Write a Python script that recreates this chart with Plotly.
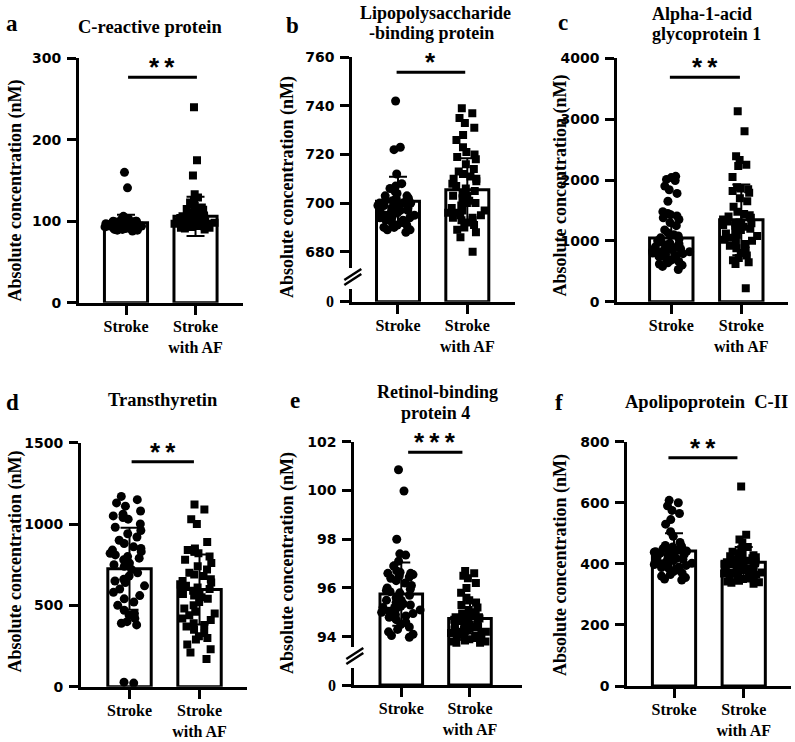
import plotly.graph_objects as go

W, H = 795, 742

# ---------------- data ----------------
groups = ["Stroke", "Stroke<br>with AF"]
titles = [["C-reactive protein"], ["Lipopolysaccharide", "-binding protein"],
          ["Alpha-1-acid", "glycoprotein 1"], ["Transthyretin"],
          ["Retinol-binding", "protein 4"], ["Apolipoprotein  C-II"]]
letters = ["a", "b", "c", "d", "e", "f"]
y_title = "Absolute concentration (nM)"

crp_stroke = [160, 141, 106, 104, 103, 102, 102, 101, 101, 100, 100, 100, 99, 99, 99, 98, 98, 98,
              97, 97, 97, 97, 96, 96, 96, 96, 95, 95, 95, 95, 95, 94, 94, 94, 94, 93, 93, 93, 93,
              92, 92, 92, 91, 91, 91, 90, 90, 89, 89, 88]
crp_af = [240, 175, 156, 133, 129, 126, 123, 121, 119, 117, 115, 114, 112, 111, 110, 109, 108, 107,
          106, 105, 104, 104, 103, 103, 102, 102, 101, 101, 100, 100, 100, 99, 99, 98, 98, 98, 97,
          97, 96, 96, 95, 95, 94, 94, 93, 93, 92, 92, 91, 90]
crp_mean = [98, 106]
crp_sd = [10, 24]

lbp_stroke = [742, 723, 722, 712, 708, 707, 706, 705, 704, 703, 703, 702, 702, 701, 701, 700, 700,
              700, 699, 699, 699, 698, 698, 698, 697, 697, 697, 696, 696, 696, 695, 695, 695, 694,
              694, 694, 693, 693, 692, 692, 691, 691, 690, 690, 689, 689, 688, 697, 700, 701]
lbp_af = [739, 737, 735, 733, 731, 728, 726, 723, 721, 720, 719, 718, 716, 714, 713, 712, 711, 710,
          710, 709, 708, 707, 706, 705, 704, 703, 702, 701, 700, 699, 698, 697, 696, 696, 695, 695,
          694, 694, 693, 693, 692, 691, 690, 689, 688, 686, 680, 700, 703, 697]
lbp_mean = [700.8, 705.5]
lbp_sd = [10, 13]

agp_stroke = [2060, 2040, 2010, 1990, 1900, 1840, 1780, 1650, 1480, 1450, 1430, 1410, 1380, 1350,
              1300, 1250, 1180, 1130, 1100, 1080, 1050, 1030, 1000, 980, 960, 950, 930, 910, 900,
              890, 880, 870, 860, 850, 840, 830, 820, 810, 800, 790, 780, 760, 740, 720, 700, 680,
              660, 640, 620, 600, 580, 530]
agp_af = [3130, 2800, 2390, 2330, 2250, 2230, 2050, 1880, 1860, 1850, 1820, 1790, 1700, 1650, 1560,
          1480, 1440, 1420, 1400, 1380, 1350, 1320, 1300, 1290, 1280, 1270, 1260, 1250, 1230, 1200,
          1180, 1150, 1120, 1100, 1080, 1050, 1020, 1000, 980, 950, 920, 880, 840, 800, 760, 720,
          680, 650, 620, 220]
agp_mean = [1045, 1345]
agp_sd = [380, 580]

ttr_stroke = [1170, 1150, 1130, 1110, 1080, 1060, 1050, 1040, 1030, 1000, 980, 960, 940, 920, 900,
              880, 860, 850, 840, 830, 820, 810, 800, 790, 780, 760, 750, 740, 720, 700, 680, 660,
              650, 640, 620, 600, 580, 560, 540, 520, 500, 470, 450, 440, 420, 400, 390, 380, 28, 22]
ttr_af = [1120, 1090, 1030, 1000, 890, 850, 840, 830, 820, 800, 780, 760, 740, 720, 700, 690, 680,
          660, 650, 640, 630, 620, 610, 600, 590, 580, 570, 560, 550, 540, 520, 500, 480, 460, 450,
          440, 420, 410, 390, 380, 370, 350, 330, 310, 300, 290, 260, 230, 210, 170]
ttr_mean = [725, 598]
ttr_sd = [252, 215]

rbp_stroke = [100.85, 99.98, 98.0, 97.4, 97.35, 97.1, 96.9, 96.7, 96.65, 96.6, 96.6, 96.55, 96.5,
              96.45, 96.4, 96.3, 96.2, 96.1, 96.0, 95.95, 95.9, 95.85, 95.8, 95.7, 95.6, 95.5, 95.4,
              95.35, 95.3, 95.25, 95.2, 95.15, 95.1, 95.05, 95.0, 94.95, 94.9, 94.85, 94.8, 94.7,
              94.6, 94.5, 94.4, 94.3, 94.2, 94.1, 94.05, 93.98, 95.5, 95.2]
rbp_af = [96.7, 96.6, 96.5, 96.4, 96.2, 96.0, 95.8, 95.6, 95.5, 95.4, 95.3, 95.2, 95.1, 95.0, 94.95,
          94.9, 94.85, 94.8, 94.75, 94.7, 94.65, 94.6, 94.55, 94.5, 94.5, 94.45, 94.4, 94.4, 94.35,
          94.3, 94.3, 94.25, 94.2, 94.2, 94.15, 94.1, 94.1, 94.05, 94.0, 94.0, 93.95, 93.9, 93.9,
          93.85, 93.8, 93.8, 93.75, 93.75, 94.6, 94.8]
rbp_mean = [95.75, 94.75]
rbp_sd = [1.3, 0.62]

apoc_stroke = [608, 600, 590, 575, 565, 545, 530, 505, 490, 470, 460, 458, 455, 452, 450, 448, 445,
               442, 440, 438, 435, 432, 430, 428, 425, 422, 420, 418, 415, 412, 410, 408, 405, 402,
               400, 398, 395, 392, 390, 388, 385, 380, 375, 370, 365, 360, 355, 350, 347, 440]
apoc_af = [653, 495, 480, 470, 455, 448, 440, 435, 430, 428, 425, 422, 420, 418, 415, 412, 410, 408,
           405, 402, 400, 398, 396, 394, 392, 390, 388, 386, 384, 382, 380, 378, 376, 374, 372, 370,
           368, 365, 362, 360, 358, 355, 352, 350, 348, 345, 342, 340, 338, 335]
apoc_mean = [442, 405]
apoc_sd = [58, 50]

sig_labels = ["**", "*", "**", "**", "***", "**"]
sig_y = [276.7, 753.8, 3688, 1383, 101.57, 747.6]

ticks_a = [0, 100, 200, 300]
ticks_b = [680, 700, 720, 740, 760]
ticks_c = [0, 1000, 2000, 3000, 4000]
ticks_d = [0, 500, 1000, 1500]
ticks_e = [94, 96, 98, 100, 102]
ticks_f = [0, 200, 400, 600, 800]

data = [
    (crp_stroke, crp_af, crp_mean, crp_sd, ticks_a),
    (lbp_stroke, lbp_af, lbp_mean, lbp_sd, ticks_b),
    (agp_stroke, agp_af, agp_mean, agp_sd, ticks_c),
    (ttr_stroke, ttr_af, ttr_mean, ttr_sd, ticks_d),
    (rbp_stroke, rbp_af, rbp_mean, rbp_sd, ticks_e),
    (apoc_stroke, apoc_af, apoc_mean, apoc_sd, ticks_f),
]

# ---------------- layout geometry (pixels, baselines for texts) ----------------
geo = [
    dict(xl=79, xr=243, yt=58.3, yb=302.7, brk=None, yr=[0, 300], xrng=[-0.676, 1.683],
         sig=[0.03, 1.02], ytx=14.5, yty=191, letter=(12, 31.7),
         title=[(150, 33)]),
    dict(xl=352.3, xr=515, yt=57.3, yb=301.7, brk=277, yr=[669.6, 760], xrng=[-0.659, 1.688],
         sig=[-0.02, 0.97], ytx=287, yty=187, letter=(292.5, 33),
         title=[(435, 19), (431.7, 39)]),
    dict(xl=617.3, xr=788, yt=58.3, yb=301.7, brk=None, yr=[0, 4000], xrng=[-0.771, 1.667],
         sig=[-0.02, 0.98], ytx=559.5, yty=186, letter=(563, 30),
         title=[(702, 20), (706, 40)]),
    dict(xl=81, xr=246.7, yt=442.7, yb=686.7, brk=None, yr=[0, 1500], xrng=[-0.693, 1.674],
         sig=[0.03, 0.92], ytx=14.5, yty=562, letter=(12.5, 410),
         title=[(163, 406)]),
    dict(xl=354.3, xr=521.7, yt=441.7, yb=685, brk=656, yr=[93.21, 102], xrng=[-0.684, 1.753],
         sig=[0.10, 0.89], ytx=287, yty=563, letter=(295, 408),
         title=[(437, 398.5), (435, 419.5)]),
    dict(xl=627.3, xr=790.7, yt=441.7, yb=686, brk=None, yr=[0, 800], xrng=[-0.670, 1.674],
         sig=[-0.08, 0.91], ytx=560, yty=565, letter=(559, 410),
         title=[(706, 408.3)]),
]


def fx(p):
    return p / W


def fy(p):
    return 1 - p / H


SERIF = "Liberation Serif"
SANS = "DejaVu Sans"
BAR_W = 0.62
LETTER_SIZE = 23

fig = go.Figure()
layout = dict(width=W, height=H, autosize=False, margin=dict(l=0, r=0, t=0, b=0, pad=0),
              paper_bgcolor="white", plot_bgcolor="rgba(0,0,0,0)", showlegend=False,
              barmode="overlay", boxmode="overlay")
shapes = []
annotations = []
extra_y = 7

axis_common = dict(showline=True, linewidth=3, linecolor="black", ticks="outside", ticklen=9,
                   tickwidth=2.5, tickcolor="black", showgrid=False, zeroline=False,
                   automargin=False, fixedrange=True)

for i, (g, (s_vals, af_vals, mean, sd, ticks)) in enumerate(zip(geo, data)):
    n = i + 1
    xid = "x" if n == 1 else f"x{n}"
    yid = "y" if n == 1 else f"y{n}"
    xkey = "xaxis" if n == 1 else f"xaxis{n}"
    ykey = "yaxis" if n == 1 else f"yaxis{n}"

    top_bottom_px = g["brk"] if g["brk"] else g["yb"]
    bottom_yid = yid
    if g["brk"]:
        bottom_yid = f"y{extra_y}"
        layout[f"yaxis{extra_y}"] = dict(
            domain=[fy(g["yb"]), fy(g["brk"])], range=[0, 10], tickvals=[0], anchor=xid,
            tickfont=dict(family=SERIF, size=16, color="black", weight="bold"),
            ticklabelstandoff=3, **axis_common)
        extra_y += 1

    layout[xkey] = dict(
        domain=[fx(g["xl"]), fx(g["xr"])], range=g["xrng"], type="category",
        categoryorder="array", categoryarray=groups, anchor=bottom_yid,
        tickfont=dict(family=SERIF, size=16, color="black", weight="bold"),
        ticklabelstandoff=-2, **axis_common)
    layout[ykey] = dict(
        domain=[fy(top_bottom_px), fy(g["yt"])], range=g["yr"], tickvals=ticks, anchor=xid,
        tickfont=dict(family=SANS, size=14, color="black", weight="bold"),
        ticklabelstandoff=3, **axis_common)

    bar_style = dict(color="white", line=dict(color="black", width=3))
    fig.add_trace(go.Bar(x=groups, y=mean, width=BAR_W, marker=bar_style,
                         xaxis=xid, yaxis=yid, hoverinfo="skip"))
    if g["brk"]:
        fig.add_trace(go.Bar(x=groups, y=mean, width=BAR_W, marker=bar_style,
                             xaxis=xid, yaxis=bottom_yid, hoverinfo="skip"))

    for cat, vals, sym, size in ((groups[0], s_vals, "circle", 9),
                                 (groups[1], af_vals, "square", 8)):
        fig.add_trace(go.Box(
            x=[cat] * len(vals), y=vals, boxpoints="all", jitter=1, pointpos=0,
            width=BAR_W, fillcolor="rgba(0,0,0,0)",
            line=dict(width=0, color="rgba(0,0,0,0)"), whiskerwidth=0,
            marker=dict(symbol=sym, size=size, color="black", line=dict(width=0)),
            xaxis=xid, yaxis=yid, hoverinfo="skip"))

    fig.add_trace(go.Scatter(
        x=groups, y=mean, mode="markers", marker=dict(size=1, color="rgba(0,0,0,0)"),
        error_y=dict(type="data", array=sd, visible=True, color="black", thickness=2, width=9),
        xaxis=xid, yaxis=yid, hoverinfo="skip"))

    # significance bar and stars
    shapes.append(dict(type="line", xref=xid, yref=yid, x0=g["sig"][0], x1=g["sig"][1],
                       y0=sig_y[i], y1=sig_y[i], line=dict(color="black", width=3)))
    annotations.append(dict(xref=xid, yref=yid, x=(g["sig"][0] + g["sig"][1]) / 2, y=sig_y[i],
                            text="\u2009".join(sig_labels[i]), showarrow=False,
                            xanchor="center", yanchor="middle", yshift=10, borderpad=0,
                            font=dict(family="Liberation Sans", size=26, color="black",
                                      weight="bold")))

    # broken axis marks
    if g["brk"]:
        ax = g["xl"]
        b = g["brk"]
        shapes.append(dict(type="rect", xref="paper", yref="paper", layer="above",
                           x0=fx(ax - 4), x1=fx(ax + 4), y0=fy(b + 12), y1=fy(b - 9),
                           fillcolor="white", line=dict(width=0)))
        for d in (-2.5, 2.5):
            shapes.append(dict(type="line", xref="paper", yref="paper", layer="above",
                               x0=fx(ax - 8), y0=fy(b + d + 5.5), x1=fx(ax + 9),
                               y1=fy(b + d - 5.5), line=dict(color="black", width=2.5)))

    # texts (positions given as baselines -> convert to box centres)
    tsize = 18.5 if len(titles[i]) == 1 else 18
    for (tx, ty), line in zip(g["title"], titles[i]):
        annotations.append(dict(xref="paper", yref="paper", x=fx(tx),
                                y=fy(ty - 0.34 * tsize), text=line, borderpad=0,
                                showarrow=False, xanchor="center", yanchor="middle",
                                font=dict(family=SERIF, size=tsize, color="black",
                                          weight="bold")))
    annotations.append(dict(xref="paper", yref="paper", x=fx(g["letter"][0]),
                            y=fy(g["letter"][1] - 0.34 * LETTER_SIZE), text=letters[i],
                            showarrow=False, xanchor="center", yanchor="middle", borderpad=0,
                            font=dict(family=SERIF, size=LETTER_SIZE, color="black",
                                      weight="bold")))
    annotations.append(dict(xref="paper", yref="paper", x=fx(g["ytx"]), y=fy(g["yty"]),
                            text=y_title, textangle=-90, showarrow=False, borderpad=0,
                            xanchor="center", yanchor="middle",
                            font=dict(family=SERIF, size=18, color="black", weight="bold")))

layout["shapes"] = shapes
layout["annotations"] = annotations
fig.update_layout(**layout)
fig.write_html("out.html")
